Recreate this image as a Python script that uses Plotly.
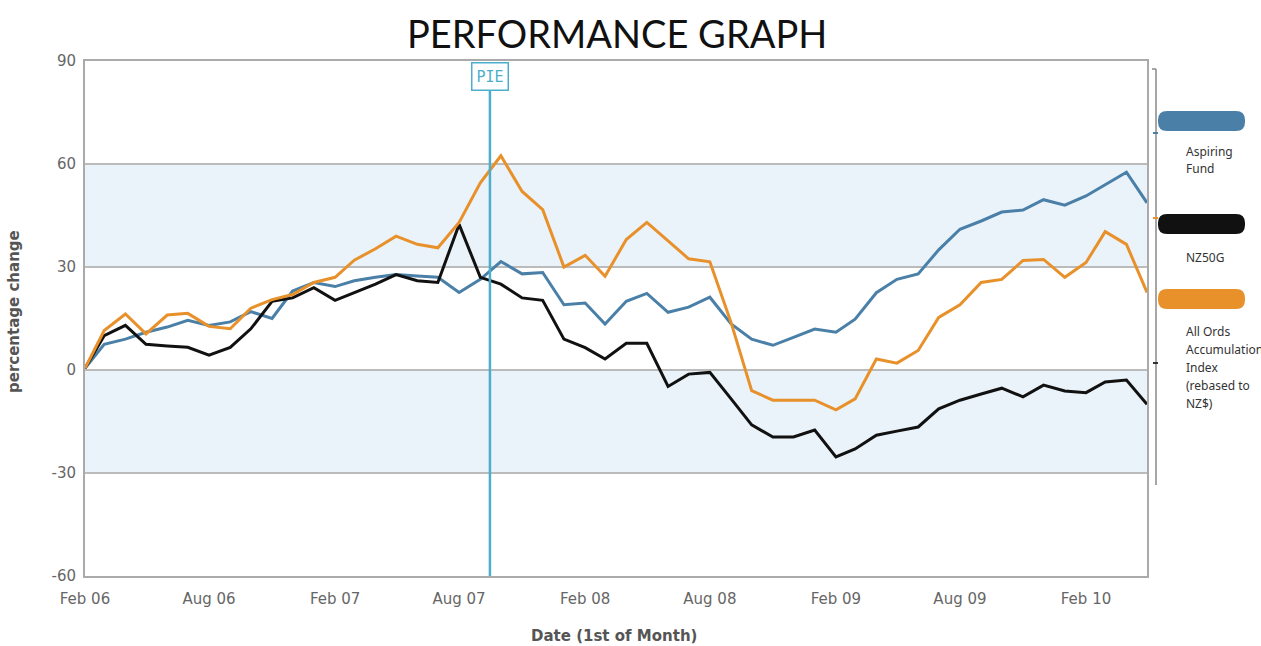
import pandas as pd
import plotly.graph_objects as go

# ---- data (monthly, starting Feb 2006) ----
start_month = "2006-02-01"
aspiring = [0.5, 7.5, 9, 11, 12.5, 14.5, 13, 14, 17, 15, 23, 25.5,
            24.3, 26, 27, 27.8, 27.4, 27, 22.6, 26.4, 31.6, 28, 28.4, 19,
            19.5, 13.4, 20, 22.3, 16.8, 18.3, 21.2, 13.4, 9, 7.2, 9.5, 11.9,
            11, 14.8, 22.5, 26.4, 28, 35, 41, 43.4, 46, 46.6, 49.6, 48,
            50.7, 54, 57.6, 48.7]
nz50g = [0.5, 10, 13, 7.5, 7, 6.6, 4.3, 6.6, 12, 20, 21, 24,
         20.3, 22.6, 25, 27.8, 26, 25.5, 42.4, 27, 25, 21, 20.3, 9,
         6.5, 3.2, 7.8, 7.8, -4.8, -1.2, -0.7, -8.4, -16, -19.5, -19.5, -17.5,
         -25.3, -23, -19, -17.8, -16.6, -11.3, -8.8, -7, -5.3, -7.8, -4.4, -6.1,
         -6.6, -3.5, -2.9, -10]
allords = [0.5, 11.5, 16.3, 10.5, 16, 16.5, 12.7, 12, 18, 20.5, 22, 25.5,
           27, 32, 35.3, 39, 36.6, 35.6, 43, 54.5, 62.4, 52, 46.7, 30,
           33.4, 27.3, 38, 43, 37.6, 32.4, 31.5, 13.8, -6, -8.8, -8.8, -8.8,
           -11.6, -8.4, 3.2, 2, 5.7, 15.3, 19, 25.5, 26.4, 31.9, 32.2, 27,
           31.3, 40.3, 36.6, 22.6]
series_names = ["Aspiring Fund", "NZ50G", "All Ords Accumulation Index (rebased to NZ$)"]
series_colors = ["#4A80A8", "#111111", "#E8912B"]
y_ticks = [-60, -30, 0, 30, 60, 90]
y_tick_labels = ["-60", "-30", "0", "30", "60", "90"]
x_tick_dates = ["2006-02-01", "2006-08-01", "2007-02-01", "2007-08-01", "2008-02-01",
                "2008-08-01", "2009-02-01", "2009-08-01", "2010-02-01"]
x_tick_labels = ["Feb 06", "Aug 06", "Feb 07", "Aug 07", "Feb 08",
                 "Aug 08", "Feb 09", "Aug 09", "Feb 10"]
pie_date = "2007-09-15"
pie_label = "PIE"

dates = pd.date_range(start_month, periods=len(aspiring), freq="MS")

W, H = 1261, 646
L, R, T, B = 85, 114, 61, 70
PW, PH = W - L - R, H - T - B


def px_x(px):
    return (px - L) / PW


def px_y(py):
    return (H - B - py) / PH


fig = go.Figure()
for name, vals, col in zip(series_names, [aspiring, nz50g, allords], series_colors):
    fig.add_trace(go.Scatter(x=dates, y=vals, mode="lines", name=name,
                             line=dict(color=col, width=3), showlegend=False))

shapes = []
# alternating bands
for y0, y1 in [(30, 60), (-30, 0)]:
    shapes.append(dict(type="rect", xref="paper", yref="y", x0=0, x1=1, y0=y0, y1=y1,
                       fillcolor="#EAF3FA", line=dict(width=0), layer="below"))
# PIE vertical line
shapes.append(dict(type="line", xref="x", yref="paper", x0=pie_date, x1=pie_date,
                   y0=0, y1=px_y(90), line=dict(color="#4DAECB", width=2.5)))
# right side separate axis line
shapes.append(dict(type="line", xref="paper", yref="paper", x0=px_x(1156), x1=px_x(1156),
                   y0=px_y(69), y1=px_y(485), line=dict(color="#888888", width=1.5)))
shapes.append(dict(type="line", xref="paper", yref="paper", x0=px_x(1152), x1=px_x(1156),
                   y0=px_y(69), y1=px_y(69), line=dict(color="#888888", width=1.5)))
for ty, tc in [(133, "#4A80A8"), (218, "#E8912B"), (363, "#333333")]:
    shapes.append(dict(type="line", xref="paper", yref="paper", x0=px_x(1153), x1=px_x(1158),
                       y0=px_y(ty), y1=px_y(ty), line=dict(color=tc, width=2)))


# legend swatches (rounded rects)
def rounded(x0, y0, x1, y1, r):
    X0, X1 = px_x(x0), px_x(x1)
    Y0, Y1 = px_y(y0), px_y(y1)
    rx = r / PW
    ry = r / PH
    return (f"M {X0+rx},{Y0} L {X1-rx},{Y0} Q {X1},{Y0} {X1},{Y0-ry} "
            f"L {X1},{Y1+ry} Q {X1},{Y1} {X1-rx},{Y1} L {X0+rx},{Y1} "
            f"Q {X0},{Y1} {X0},{Y1+ry} L {X0},{Y0-ry} Q {X0},{Y0} {X0+rx},{Y0} Z")


for (yc, col) in [(121, series_colors[0]), (224, series_colors[1]), (299, series_colors[2])]:
    shapes.append(dict(type="path", xref="paper", yref="paper",
                       path=rounded(1158, yc - 10, 1245, yc + 10, 9),
                       fillcolor=col, line=dict(width=0)))

annotations = []
annotations.append(dict(text="PERFORMANCE GRAPH", xref="paper", yref="paper",
                        x=px_x(617), y=px_y(33), xanchor="center", yanchor="middle",
                        showarrow=False, font=dict(family="Lato", size=38, color="#111111")))
annotations.append(dict(text=pie_label, xref="x", yref="paper", x=pie_date, y=px_y(77),
                        xanchor="center", yanchor="middle", showarrow=False,
                        font=dict(family="DejaVu Sans Mono", size=15, color="#4DAECB"),
                        bgcolor="white", bordercolor="#4DAECB", borderwidth=1.5, borderpad=4))
annotations.append(dict(text="<b>Date (1st of Month)</b>", xref="paper", yref="paper",
                        x=px_x(614), y=px_y(636), xanchor="center", yanchor="middle",
                        showarrow=False, font=dict(family="DejaVu Sans", size=15, color="#555555")))
annotations.append(dict(text="<b>percentage change</b>", xref="paper", yref="paper",
                        x=px_x(14), y=px_y(312), xanchor="center", yanchor="middle",
                        textangle=-90, showarrow=False,
                        font=dict(family="DejaVu Sans", size=15, color="#555555")))
legend_lines = [("Aspiring", 151), ("Fund", 169), ("NZ50G", 257), ("All Ords", 331),
                ("Accumulation", 349), ("Index", 367), ("(rebased to", 385), ("NZ$)", 403)]
for txt, ly in legend_lines:
    annotations.append(dict(text=txt, xref="paper", yref="paper", x=px_x(1184), y=px_y(ly),
                            xanchor="left", yanchor="middle", showarrow=False,
                            font=dict(family="Noto Sans", size=12, color="#333333")))

fig.update_layout(
    width=W, height=H,
    margin=dict(l=L, r=R, t=T, b=B),
    paper_bgcolor="white", plot_bgcolor="white",
    shapes=shapes, annotations=annotations,
    xaxis=dict(range=[dates[0], dates[-1]], tickvals=x_tick_dates, ticktext=x_tick_labels,
               showgrid=False, zeroline=False, showline=True, mirror=True,
               linecolor="#AAAAAA", linewidth=2, ticks="outside", ticklen=8,
               tickcolor="rgba(0,0,0,0)",
               tickfont=dict(family="DejaVu Sans", size=15, color="#666666")),
    yaxis=dict(range=[-60, 90], tickvals=y_ticks, ticktext=y_tick_labels,
               showgrid=True, gridcolor="#BBBBBB",
               gridwidth=1.5, zeroline=False, showline=True, mirror=True,
               linecolor="#AAAAAA", linewidth=2, ticks="outside", ticklen=4,
               tickcolor="rgba(0,0,0,0)",
               tickfont=dict(family="DejaVu Sans", size=15, color="#666666")),
)

fig.write_html("out.html", config={"displayModeBar": False},
               post_script="document.body.style.margin='0';document.body.style.overflow='hidden';")
